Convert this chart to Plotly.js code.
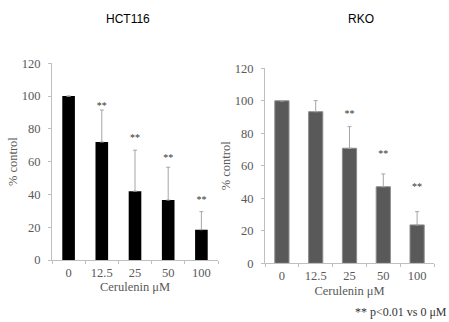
<!DOCTYPE html>
<html><head><meta charset="utf-8">
<script src="https://cdn.plot.ly/plotly-3.0.1.min.js"></script>
<style>html,body{margin:0;padding:0;background:#fff}#c{width:449px;height:322px}</style>
</head><body><div id="c"></div>
<script>
const categories = ['0', '12.5', '25', '50', '100'];
const hctValues = [100, 72, 42, 36.6, 18.5];
const hctErr = [0, 19.5, 25, 20, 11];
const hctStars = ['', '**', '**', '**', '**'];
const hctStarY = [null, 93.5, 74, 61.8, 36.6];
const rkoValues = [100, 93.3, 70.8, 47.1, 23.6];
const rkoErr = [0, 6.8, 13.3, 7.9, 8.2];
const rkoStars = ['', '', '**', '**', '**'];
const rkoStarY = [null, null, 91.7, 67, 46.8];
const yTicks = [0, 20, 40, 60, 80, 100, 120];

const serif = 'Liberation Serif, Times New Roman, serif';
const gray = '#595959';

const traces = [
  {type: 'bar', x: categories, y: hctValues, xaxis: 'x', yaxis: 'y',
   marker: {color: '#000000', line: {color: '#000', width: 0}},
   error_y: {type: 'data', symmetric: false, array: hctErr, arrayminus: hctErr.map(() => 0), color: '#a6a6a6', thickness: 1, width: 2},
   width: 0.38, hoverinfo: 'none'},
  {type: 'scatter', mode: 'text', x: categories, y: hctStarY, text: hctStars,
   textposition: 'middle center', textfont: {family: serif, size: 10, color: '#333'}, xaxis: 'x', yaxis: 'y', hoverinfo: 'none'},
  {type: 'bar', x: categories, y: rkoValues, xaxis: 'x2', yaxis: 'y2',
   marker: {color: '#595959', line: {color: '#8c8c8c', width: 1}},
   error_y: {type: 'data', symmetric: false, array: rkoErr, arrayminus: rkoErr.map(() => 0), color: '#a6a6a6', thickness: 1, width: 2},
   width: 0.42, hoverinfo: 'none'},
  {type: 'scatter', mode: 'text', x: categories, y: rkoStarY, text: rkoStars,
   textposition: 'middle center', textfont: {family: serif, size: 10, color: '#333'}, xaxis: 'x2', yaxis: 'y2', hoverinfo: 'none'}
];

const W = 449, H = 322;
function xa(l, r) {
  return {domain: [l / W, r / W], type: 'category', showgrid: false, zeroline: false,
    showline: true, linecolor: '#bfbfbf', linewidth: 1, ticks: 'outside', tickson: 'boundaries',
    ticklen: 3, tickcolor: '#bfbfbf', tickfont: {family: serif, size: 12.5, color: gray},
    ticklabelstandoff: 1,
    title: {text: 'Cerulenin μM', font: {family: serif, size: 12.5, color: gray}, standoff: 3},
    fixedrange: true};
}
function ya(b, t, anchor) {
  return {domain: [(H - b) / H, (H - t) / H], range: [0, 120], tickvals: yTicks, showgrid: false,
    zeroline: false, showline: true, linecolor: '#bfbfbf', linewidth: 1, ticks: 'outside', ticklen: 3,
    tickcolor: '#bfbfbf', tickfont: {family: serif, size: 12.5, color: gray}, ticklabelstandoff: 5,
    title: {text: '% control', font: {family: serif, size: 12.5, color: gray}, standoff: 1},
    anchor: anchor, fixedrange: true};
}
const layout = {
  width: W, height: H, margin: {l: 0, r: 0, t: 0, b: 0}, showlegend: false,
  paper_bgcolor: '#fff', plot_bgcolor: '#fff', bargap: 0.6,
  xaxis: Object.assign(xa(52, 218), {anchor: 'y'}),
  yaxis: ya(260, 63.3, 'x'),
  xaxis2: Object.assign(xa(265, 434), {anchor: 'y2'}),
  yaxis2: ya(263.3, 68.3, 'x2'),
  annotations: [
    {text: 'HCT116', x: 128 / W, y: 1 - 19 / H, xref: 'paper', yref: 'paper', showarrow: false,
     font: {family: 'Liberation Sans, Arial, sans-serif', size: 12, color: '#000'}, xanchor: 'center', yanchor: 'middle'},
    {text: 'RKO', x: 361 / W, y: 1 - 19 / H, xref: 'paper', yref: 'paper', showarrow: false,
     font: {family: 'Liberation Sans, Arial, sans-serif', size: 12, color: '#000'}, xanchor: 'center', yanchor: 'middle'},
    {text: '** p<0.01 vs 0 μM', x: 449 / W, y: 1 - 312 / H, xref: 'paper', yref: 'paper', showarrow: false,
     font: {family: serif, size: 12, color: '#333'}, xanchor: 'right', yanchor: 'middle'}
  ]
};
Plotly.newPlot('c', traces, layout, {staticPlot: true});
</script></body></html>
